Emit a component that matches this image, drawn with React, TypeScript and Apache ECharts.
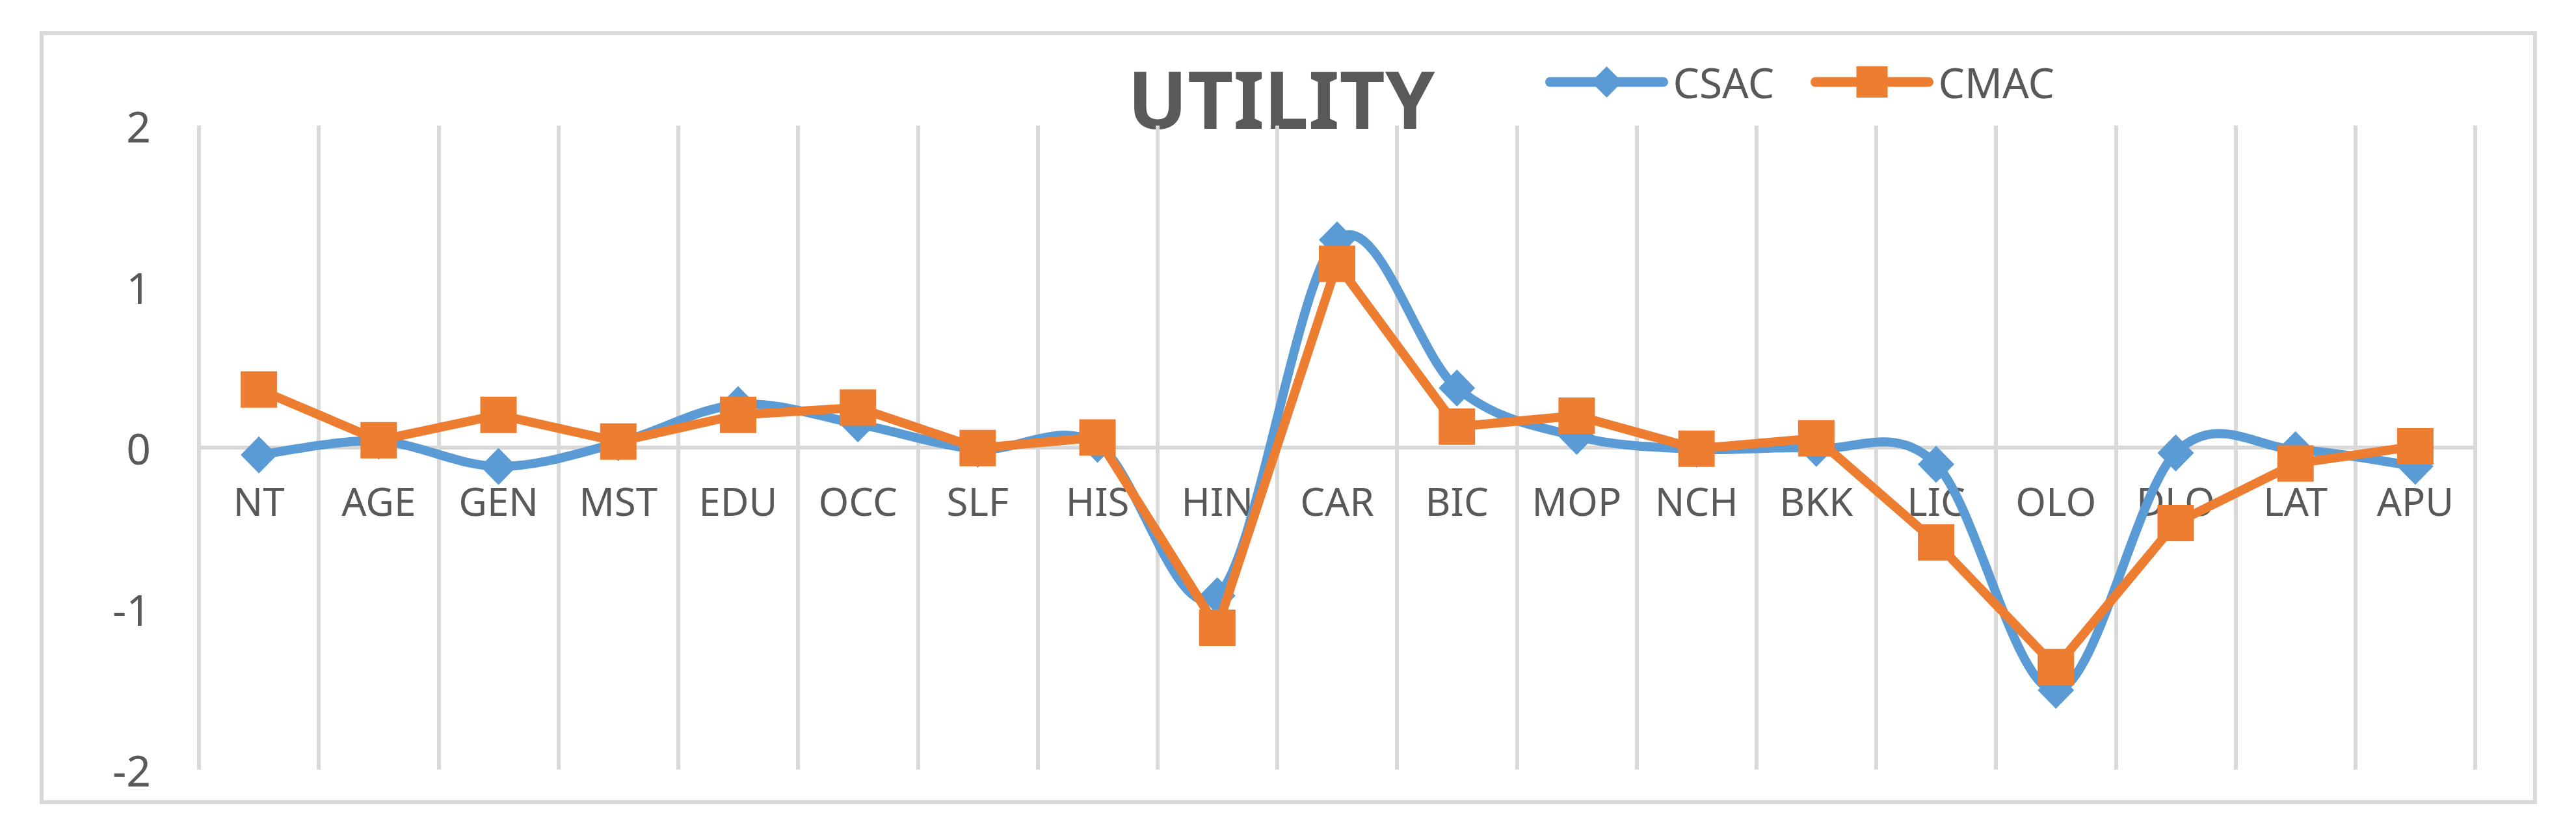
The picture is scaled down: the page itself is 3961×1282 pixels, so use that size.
import React, { useEffect, useRef } from "react";
import * as echarts from "echarts";

const categories = ["NT", "AGE", "GEN", "MST", "EDU", "OCC", "SLF", "HIS", "HIN", "CAR", "BIC", "MOP", "NCH", "BKK", "LIC", "OLO", "DLO", "LAT", "APU"];
const csac = [-0.045, 0.04, -0.117, 0.03, 0.267, 0.147, -0.01, 0.02, -0.92, 1.29, 0.37, 0.07, -0.01, -0.005, -0.104, -1.507, -0.033, -0.013, -0.116];
const cmac = [0.361, 0.045, 0.203, 0.037, 0.203, 0.248, -0.003, 0.063, -1.119, 1.141, 0.13, 0.198, -0.007, 0.058, -0.589, -1.364, -0.469, -0.099, 0.008];
const yMin = -2;
const yMax = 2;
const yInterval = 1;
const titleText = "UTILITY";
const seriesNames = ["CSAC", "CMAC"];

const FONT = "'Noto Sans', 'Open Sans', sans-serif";
const TEXT = "#595959";
const GRID = "#d9d9d9";
const BLUE = "#5b9bd5";
const ORANGE = "#ed7d31";

export default function App() {
  const ref = useRef<HTMLDivElement>(null);
  useEffect(() => {
    if (!ref.current) return;
    const chart = echarts.init(ref.current, null, { renderer: "svg" });
    const legendBase = {
      top: 94,
      itemWidth: 174,
      itemHeight: 60,
      itemGap: 0,
      padding: 0,
      textStyle: { fontSize: 64, color: TEXT, fontFamily: FONT, padding: [0, 0, 0, 10] },
    };
    const n = csac.length;
    const clampIdx = (k: number) => Math.max(0, Math.min(n - 1, k));
    chart.setOption({
      animation: false,
      backgroundColor: "#ffffff",
      graphic: [
        {
          type: "rect",
          shape: { x: 64, y: 51, width: 3834, height: 1182 },
          style: { fill: "none", stroke: GRID, lineWidth: 6 },
          silent: true,
        },
        {
          type: "text",
          x: 1970,
          y: 151,
          style: {
            text: titleText,
            fontSize: 122,
            fontWeight: "bold",
            fontFamily: FONT,
            fill: TEXT,
            align: "center",
            verticalAlign: "middle",
          },
        },
      ],
      legend: [
        {
          ...legendBase,
          left: 2376,
          data: [seriesNames[0]],
          lineStyle: { color: BLUE, width: 15, cap: "round", opacity: 1 },
        },
        {
          ...legendBase,
          left: 2784,
          data: [seriesNames[1]],
          lineStyle: { color: ORANGE, width: 15, cap: "round", opacity: 1 },
        },
      ],
      grid: { left: 306, right: 155, top: 193, bottom: 99, containLabel: false },
      xAxis: {
        type: "category",
        data: categories,
        boundaryGap: true,
        position: "bottom",
        offset: -495,
        axisLine: { show: true, onZero: false, lineStyle: { color: GRID, width: 6 } },
        axisTick: { show: false },
        splitLine: { show: true, lineStyle: { color: GRID, width: 6 } },
        axisLabel: { interval: 0, margin: 52, fontSize: 60, color: TEXT, fontFamily: FONT },
      },
      yAxis: {
        type: "value",
        min: yMin,
        max: yMax,
        interval: yInterval,
        axisLine: { show: false },
        axisTick: { show: false },
        splitLine: { show: false },
        axisLabel: { margin: 74, fontSize: 66, color: TEXT, fontFamily: FONT },
      },
      series: [
        {
          name: "CSAC smooth curve",
          type: "custom",
          data: csac.map((v, i) => [i, v]),
          encode: { x: 0, y: 1 },
          z: 1,
          silent: true,
          renderItem: (params: any, api: any) => {
            const i = params.dataIndex;
            if (i >= n - 1) return null;
            const pt = (k: number) => {
              const c = clampIdx(k);
              return api.coord([c, csac[c]]);
            };
            const p0 = pt(i - 1);
            const p1 = pt(i);
            const p2 = pt(i + 1);
            const p3 = pt(i + 2);
            return {
              type: "bezierCurve",
              shape: {
                x1: p1[0],
                y1: p1[1],
                x2: p2[0],
                y2: p2[1],
                cpx1: p1[0] + (p2[0] - p0[0]) / 6,
                cpy1: p1[1] + (p2[1] - p0[1]) / 6,
                cpx2: p2[0] - (p3[0] - p1[0]) / 6,
                cpy2: p2[1] - (p3[1] - p1[1]) / 6,
              },
              style: { stroke: BLUE, lineWidth: 14, fill: null, lineCap: "round" },
            };
          },
        },
        {
          name: seriesNames[0],
          type: "line",
          data: csac,
          symbol: "diamond",
          symbolSize: [56, 57],
          showAllSymbol: true,
          lineStyle: { color: BLUE, width: 0, opacity: 0 },
          itemStyle: { color: BLUE },
          z: 2,
        },
        {
          name: seriesNames[1],
          type: "line",
          data: cmac,
          smooth: false,
          symbol: "rect",
          symbolSize: 56,
          showAllSymbol: true,
          lineStyle: { color: ORANGE, width: 14 },
          itemStyle: { color: ORANGE },
          z: 3,
        },
      ],
    });
    return () => chart.dispose();
  }, []);
  return (
    <div
      ref={ref}
      style={{ position: "fixed", left: 0, top: 0, width: 3961, height: 1282 }}
    />
  );
}
